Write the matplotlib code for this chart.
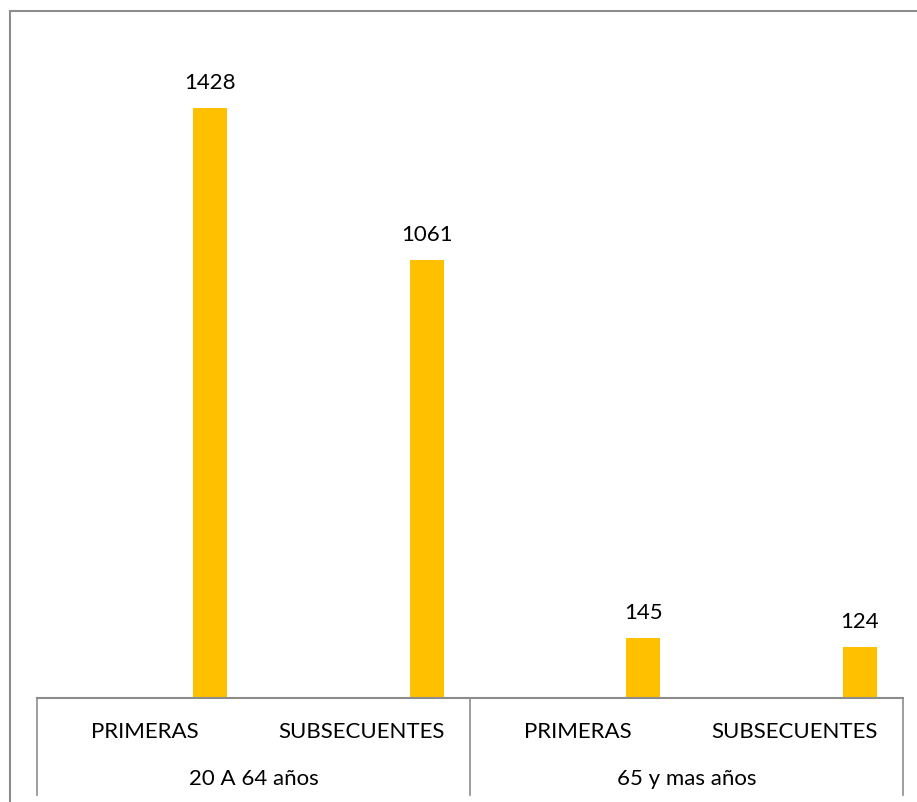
import matplotlib
matplotlib.use("Agg")
import matplotlib.pyplot as plt
from matplotlib.lines import Line2D
from matplotlib.patches import Rectangle

plt.rcParams['font.family'] = ['Lato', 'DejaVu Sans']

groups = ["20 A 64 años", "65 y mas años"]
categories = ["PRIMERAS", "SUBSECUENTES", "PRIMERAS", "SUBSECUENTES"]
values = [1428, 1061, 145, 124]

W, H = 917, 802
fig = plt.figure(figsize=(W / 100, H / 100), dpi=100)

x0, x1 = 37, 903
y_base, y_top = 698, 37
ax = fig.add_axes([x0 / W, 1 - y_base / H, (x1 - x0) / W, (y_base - y_top) / H])

bar_color = "#FFC000"
line_color = "#8C8C8C"
fs = 16

n = len(categories)
pos = [i + 0.3 for i in range(n)]
bars = ax.bar(pos, values, width=0.158, color=bar_color, zorder=2)
for b, v in zip(bars, values):
    ax.annotate(str(v), (b.get_x() + b.get_width() / 2, v),
                xytext=(0, 18), textcoords="offset points",
                ha="center", va="center", fontsize=fs, color="#000000")

ax.set_xlim(-0.5, n - 0.5)
ax.set_ylim(0, 1600)
ax.set_xticks([])
ax.set_yticks([])
for s in ax.spines.values():
    s.set_visible(False)

# baseline and category table lines
tr = ax.get_xaxis_transform()
ax.add_line(Line2D([-0.5, n - 0.5], [0, 0], transform=tr, color=line_color,
                   lw=1.5, clip_on=False, zorder=3))
row_bottom = -(795 - y_base) / (y_base - y_top)
for xv in [-0.5, 1.5, 3.5]:
    ax.add_line(Line2D([xv, xv], [0, row_bottom], transform=tr, color=line_color,
                       lw=1.2, clip_on=False))

cat_y = -(732 - y_base) / (y_base - y_top)
grp_y = -(779 - y_base) / (y_base - y_top)
for i, c in enumerate(categories):
    ax.text(i, cat_y, c, transform=tr, ha="center", va="center", fontsize=fs)
for g, gi in enumerate(groups):
    ax.text(0.5 + 2 * g, grp_y, gi, transform=tr, ha="center", va="center", fontsize=fs)

# outer chart border
fig.patches.append(Rectangle((9.5 / W, -0.1), 1.2, (H - 10.5) / H + 0.1,
                             transform=fig.transFigure, fill=False,
                             edgecolor=line_color, lw=1.5))

fig.savefig("out.png", dpi=100)
